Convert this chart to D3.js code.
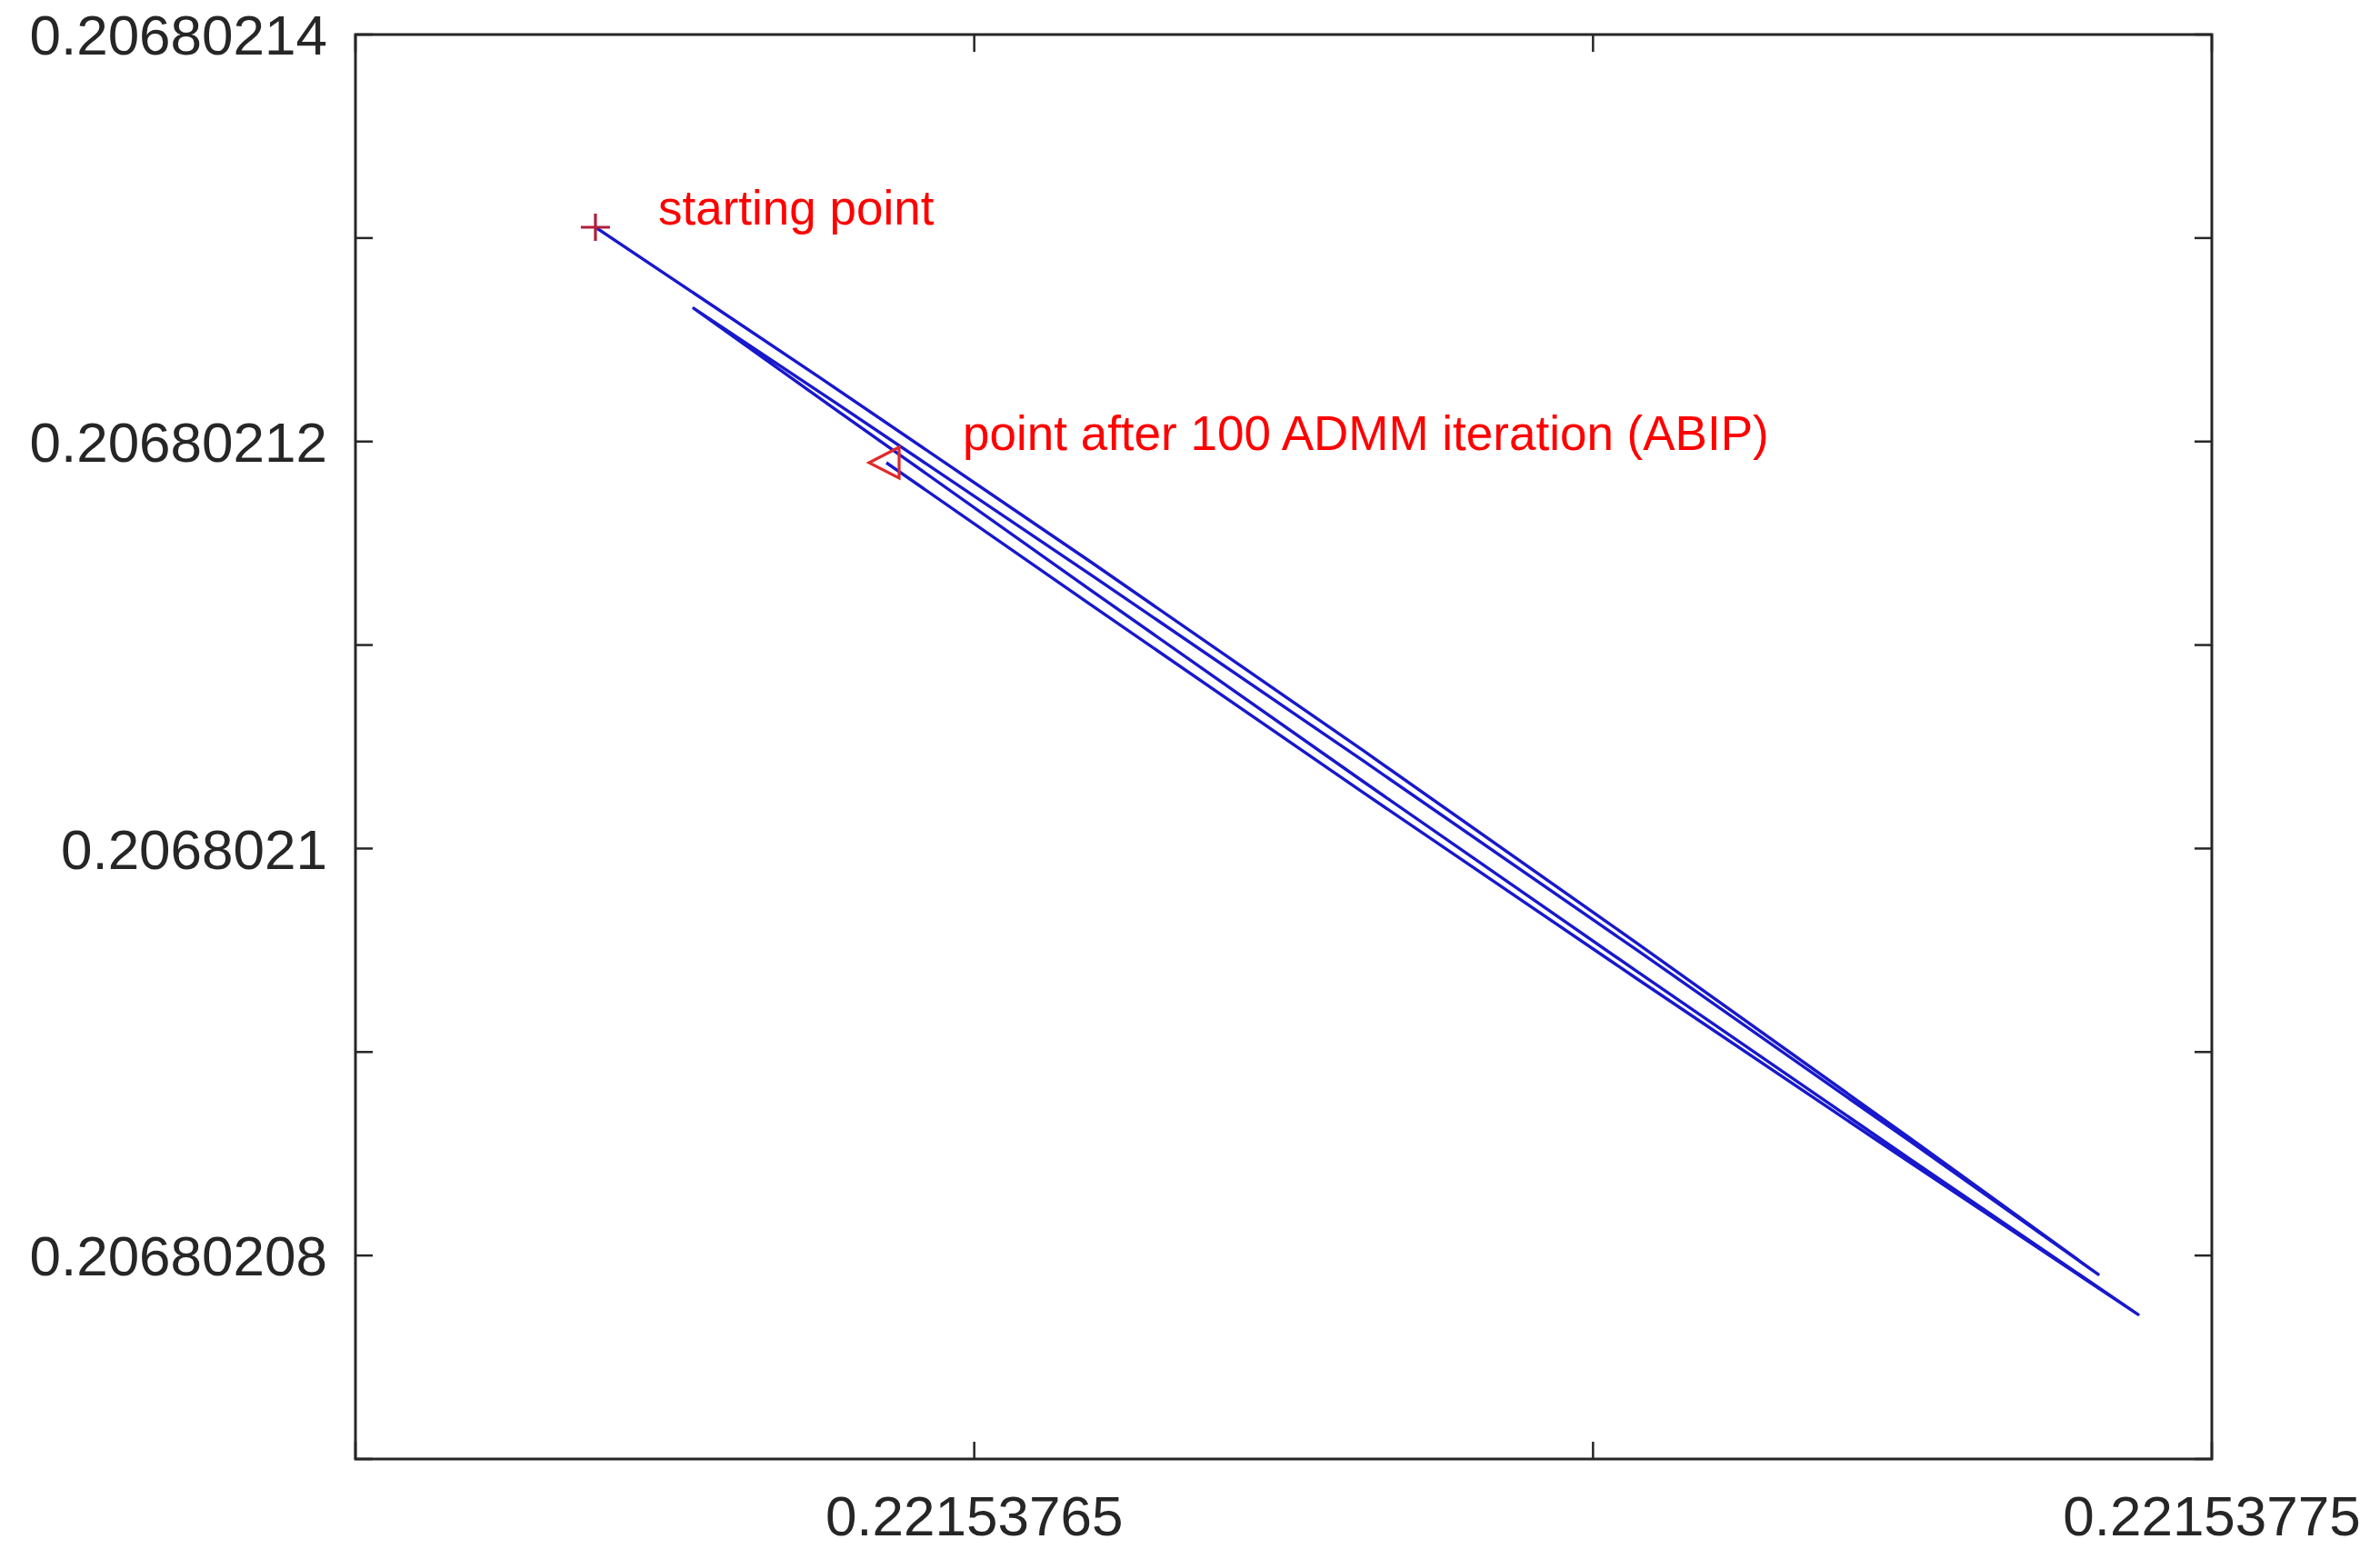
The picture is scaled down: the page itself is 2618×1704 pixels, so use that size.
<!DOCTYPE html>
<html>
<head>
<meta charset="utf-8">
<script src="https://cdn.jsdelivr.net/npm/d3@7"></script>
<style>
  html, body { margin: 0; padding: 0; background: #ffffff; }
  svg { display: block; }
  text { font-family: "Liberation Sans", Arial, Helvetica, sans-serif; }
</style>
</head>
<body>
<script>
// Iterate trajectory (x, y) of the solver, in visiting order (four sweeps)
const pathX = [0.22153761939, 0.22153763739, 0.22153765943, 0.22153768146, 0.22153770350, 0.22153772554, 0.22153774082,
               0.22153772554, 0.22153770350, 0.22153768146, 0.22153765943, 0.22153763886, 0.22153762733,
               0.22153763886, 0.22153765943, 0.22153768146, 0.22153770350, 0.22153772554, 0.22153774405,
               0.22153772554, 0.22153770350, 0.22153768146, 0.22153765943, 0.22153764290];
const pathY = [0.20680213053, 0.20680212320, 0.20680211408, 0.20680210480, 0.20680209537, 0.20680208580, 0.20680207907,
               0.20680208565, 0.20680209503, 0.20680210430, 0.20680211345, 0.20680212188, 0.20680212655,
               0.20680212155, 0.20680211269, 0.20680210328, 0.20680209398, 0.20680208477, 0.20680207710,
               0.20680208460, 0.20680209362, 0.20680210274, 0.20680211197, 0.20680211896];

// Special points
const startPoint = { x: 0.22153761939, y: 0.20680213053 };
const admmPoint = { x: 0.22153764290, y: 0.20680211896 };

// Annotations (anchored in data coordinates, left/baseline)
const annotationText = ["starting point", "point after 100 ADMM iteration (ABIP)"];
const annotationX = [0.221537624461, 0.221537649070];
const annotationY = [0.206802130664, 0.206802119585];

// Axes
const xDomain = [0.2215376, 0.22153775];
const yDomain = [0.20680207, 0.20680214];
const xTicks = [0.2215376, 0.22153765, 0.2215377, 0.22153775];
const xTickLabels = ["", "0.22153765", "", "0.22153775"];
const yTicks = [0.20680207, 0.20680208, 0.20680209, 0.2068021, 0.20680211, 0.20680212, 0.20680213, 0.20680214];
const yTickLabels = ["", "0.20680208", "", "0.2068021", "", "0.20680212", "", "0.20680214"];

const W = 2618, H = 1704;
const plot = { left: 391, right: 2433, top: 38, bottom: 1605 };
const axisColor = "#262626";
const tickLen = 19;

const svg = d3.select("body").append("svg")
  .attr("width", W).attr("height", H);

const x = d3.scaleLinear().domain(xDomain).range([plot.left, plot.right]);
const y = d3.scaleLinear().domain(yDomain).range([plot.bottom, plot.top]);

// Trajectory line
const pts = pathX.map((v, i) => [v, pathY[i]]);
svg.append("path")
  .datum(pts)
  .attr("fill", "none")
  .attr("stroke", "#1818cc")
  .attr("stroke-width", 3.4)
  .attr("stroke-linejoin", "round")
  .attr("d", d3.line().x(d => x(d[0])).y(d => y(d[1])));

// Starting point: plus marker
const sx = x(startPoint.x), sy = y(startPoint.y);
const plusG = svg.append("g").attr("stroke", "#b01f3a").attr("stroke-width", 3.2);
plusG.append("line").attr("x1", sx - 16).attr("x2", sx + 16).attr("y1", sy).attr("y2", sy);
plusG.append("line").attr("x1", sx).attr("x2", sx).attr("y1", sy - 15).attr("y2", sy + 15);

// Point after ADMM iterations: left-pointing triangle
const tx = x(admmPoint.x), ty = y(admmPoint.y);
svg.append("path")
  .attr("d", d3.line()([[tx - 19, ty], [tx + 14, ty - 17], [tx + 14, ty + 17]]) + "Z")
  .attr("fill", "none")
  .attr("stroke", "#e02a2a")
  .attr("stroke-width", 3.2)
  .attr("stroke-linejoin", "miter");

// Annotations
svg.selectAll("text.annot")
  .data(annotationText)
  .join("text")
  .attr("class", "annot")
  .attr("x", (d, i) => x(annotationX[i]))
  .attr("y", (d, i) => y(annotationY[i]))
  .attr("fill", "#ff0000")
  .attr("font-size", 53)
  .text(d => d);

// Frame
svg.append("rect")
  .attr("x", plot.left).attr("y", plot.top)
  .attr("width", plot.right - plot.left).attr("height", plot.bottom - plot.top)
  .attr("fill", "none").attr("stroke", axisColor).attr("stroke-width", 3);

// Inward tick marks on all four sides
const tickG = svg.append("g").attr("stroke", axisColor).attr("stroke-width", 2.5);
xTicks.forEach(v => {
  const px = x(v);
  tickG.append("line").attr("x1", px).attr("x2", px).attr("y1", plot.bottom).attr("y2", plot.bottom - tickLen);
  tickG.append("line").attr("x1", px).attr("x2", px).attr("y1", plot.top).attr("y2", plot.top + tickLen);
});
yTicks.forEach(v => {
  const py = y(v);
  tickG.append("line").attr("x1", plot.left).attr("x2", plot.left + tickLen).attr("y1", py).attr("y2", py);
  tickG.append("line").attr("x1", plot.right).attr("x2", plot.right - tickLen).attr("y1", py).attr("y2", py);
});

// Tick labels
svg.selectAll("text.xlab")
  .data(xTicks)
  .join("text")
  .attr("class", "xlab")
  .attr("x", d => x(d))
  .attr("y", 1689)
  .attr("text-anchor", "middle")
  .attr("fill", axisColor)
  .attr("font-size", 62)
  .text((d, i) => xTickLabels[i]);

svg.selectAll("text.ylab")
  .data(yTicks)
  .join("text")
  .attr("class", "ylab")
  .attr("x", plot.left - 31)
  .attr("y", d => y(d))
  .attr("dy", "0.36em")
  .attr("text-anchor", "end")
  .attr("fill", axisColor)
  .attr("font-size", 62)
  .text((d, i) => yTickLabels[i]);
</script>
</body>
</html>
